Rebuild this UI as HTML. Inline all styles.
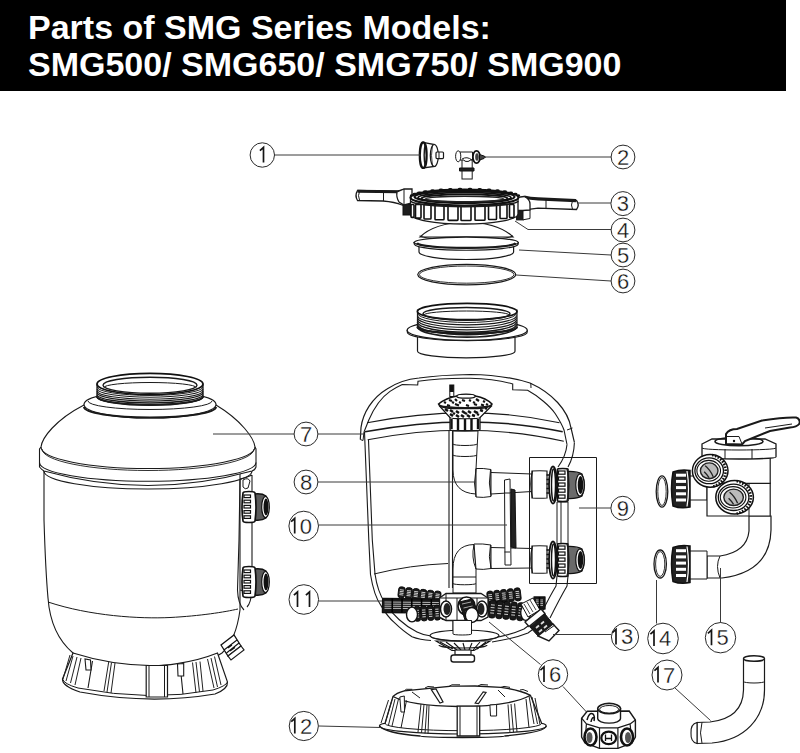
<!DOCTYPE html>
<html><head><meta charset="utf-8">
<style>
html,body{margin:0;padding:0;background:#fff;width:800px;height:753px;overflow:hidden}
.bar{position:absolute;left:0;top:0;width:786px;height:91px;background:#000}
.t{position:absolute;left:28px;color:#fff;font-family:"Liberation Sans",sans-serif;font-weight:bold;font-size:34px;white-space:nowrap;line-height:1}
svg{position:absolute;left:0;top:0}
svg text{font-family:"Liberation Sans",sans-serif;font-size:22px;fill:#111;text-anchor:middle;stroke:#fff;stroke-width:0.3}
.c{fill:#fff;stroke:#2a2a2a}
.ld{fill:none;stroke:#3a3a3a}
.o{fill:#fff;stroke:#1a1a1a}
.n{fill:none;stroke:#1a1a1a}
.k{fill:#1e1e1e;stroke:#111}
.g{fill:#555;stroke:#111}
svg{stroke-width:1}
</style></head><body>
<div class="bar"></div>
<div class="t" style="top:10px">Parts of SMG Series Models:</div>
<div class="t" style="top:47px">SMG500/ SMG650/ SMG750/ SMG900</div>
<svg width="800" height="753" viewBox="0 0 800 753">
<!-- PARTS -->
<g id="p1">
<path class="o" d="M423,142.3 L434.5,144.5 L434.5,166.5 L423,168 Z" stroke-width="1.3"/>
<ellipse class="o" cx="434.3" cy="155.5" rx="4" ry="11" stroke-width="1.2"/>
<path class="n" d="M432.5,145 Q430.5,155.5 432.5,166" stroke-width="0.8"/>
<rect class="o" x="436" y="152" width="7.5" height="6.6" rx="1" stroke-width="1.2"/>
<path class="n" d="M439,152 L439,158.6"/>
<ellipse cx="423.2" cy="155.2" rx="3.4" ry="12.8" fill="#fff" stroke="#111" stroke-width="2.2"/>
<path class="n" d="M425.3,143.5 Q423,155 425.3,167" stroke-width="1.4"/>
</g>
<g id="p2">
<rect class="o" x="462" y="158" width="10.2" height="21" />
<path d="M459.5,168 L474,168 L474,171 L459.5,171 Z" fill="#222" stroke="#111" stroke-width="1"/>
<path class="o" d="M460,152 L472.5,152 L472.5,160 L470,160 A3.00,1.50 0 0 1 464,160 L460,160 Z"/>
<path class="n" d="M462,159 Q467,156 472,160"/>
<ellipse class="o" cx="458.2" cy="156.3" rx="2.6" ry="5.5"/>
<ellipse cx="476.5" cy="157" rx="3.6" ry="6.2" fill="#fff" stroke="#111" stroke-width="1.8"/>
<ellipse cx="477" cy="157" rx="1.8" ry="3.8" fill="#444"/>
<path d="M479.5,154.5 L484,156 L485.5,157 L484,158.5 L479.5,160 Z" fill="#444" stroke="#111" stroke-width="1"/>
</g>
<g id="p5">
<path class="o" d="M419,246 L419,252 A47.3,7.5 0 0 0 513.6,252 L513.6,246 Z" stroke-width="1.2"/>
<path class="o" d="M420,237 C428,229 442,223 466.5,221.5 C491,223 505,229 513,237 Z" stroke-width="1.2"/>
<path class="n" d="M420,235.5 A46.5,4.5 0 0 0 513,235.5"/>
<path class="o" d="M414,242.5 L414.5,244.5 A51.8,6 0 0 0 518,244.5 L518.3,242.5 Z" stroke-width="1.2"/>
<ellipse class="o" cx="466.2" cy="242.5" rx="52" ry="5.5" stroke-width="1.3"/>
<path class="n" d="M417,243 A49.3,5.2 0 0 0 515.5,243" stroke-width="2.2"/>
</g>
<g id="p34">
<path class="o" d="M357.5,190.5 Q354.5,195.5 357.5,200.5 L383,201 Q395,202 402,205 L404,205.5 L404,191.5 L398,191.5 Z" stroke-width="1.3"/>
<path class="n" d="M357.5,191.2 L398,191.8 L404,190.5" stroke-width="3"/>
<path class="n" d="M383.5,191.5 L383.5,201"/>
<path class="n" d="M359.5,191.5 Q357.5,195.5 359.5,200"/>
<rect class="k" x="403" y="204.5" width="7.5" height="10.5"/>
<path class="o" d="M397,192 L404,189 L412,189 L412,203 L404,205 L399,202 Q396,197 397,192 Z" stroke-width="1.3"/>
<path class="n" d="M404,189 L404,205" />
<path class="o" d="M576.5,200.5 Q580,205 576.5,209.5 L538,208.2 Q530,209 524,210.5 L524,197 Q530,198.5 538,198.8 Z" stroke-width="1.3"/>
<path class="n" d="M524,197 Q530,198.5 538,198.8 L576,200.7" stroke-width="3.2"/>
<path class="n" d="M546,199.5 L546,208.5 M572.5,200.8 Q570.5,205 572.5,209.2"/>
<rect class="k" x="516.6" y="210.5" width="6.6" height="9.4"/>
<path class="o" d="M523,210.5 L530,210 L530,218.5 L523,219.8 Z"/>
<path class="o" d="M516.6,197.5 L524,196.5 Q530,199 530,204 L530,210 L523,210.5 L516.6,210.5 Z" stroke-width="1.3"/>
<path class="o" d="M410.5,198 L410.5,214 A53.75,10 0 0 0 518,214 L518,198 Z" stroke-width="1.3"/>
<rect x="411" y="204.5" width="3" height="12.9" rx="0.8" fill="#fff" stroke="#111" stroke-width="1.6"/><rect x="415.5" y="204.5" width="5.5" height="13.6" rx="0.8" fill="#fff" stroke="#111" stroke-width="1.6"/><rect x="424" y="204.5" width="7" height="14.5" rx="0.8" fill="#fff" stroke="#111" stroke-width="1.6"/><rect x="435" y="204.5" width="9" height="15.3" rx="0.8" fill="#fff" stroke="#111" stroke-width="1.6"/><rect x="448" y="204.5" width="10" height="15.9" rx="0.8" fill="#fff" stroke="#111" stroke-width="1.6"/><rect x="461" y="204.5" width="10" height="16.0" rx="0.8" fill="#fff" stroke="#111" stroke-width="1.6"/><rect x="475" y="204.5" width="10" height="15.7" rx="0.8" fill="#fff" stroke="#111" stroke-width="1.6"/><rect x="488.5" y="204.5" width="8.0" height="15.0" rx="0.8" fill="#fff" stroke="#111" stroke-width="1.6"/><rect x="500" y="204.5" width="7" height="14.0" rx="0.8" fill="#fff" stroke="#111" stroke-width="1.6"/><rect x="509.5" y="204.5" width="4.5" height="13.1" rx="0.8" fill="#fff" stroke="#111" stroke-width="1.6"/>
<ellipse cx="412.0" cy="195.5" rx="2.2" ry="1.3" fill="#111"/><ellipse cx="414.7" cy="194.1" rx="2.2" ry="1.3" fill="#111"/><ellipse cx="419.2" cy="192.8" rx="2.2" ry="1.3" fill="#111"/><ellipse cx="425.2" cy="191.6" rx="2.2" ry="1.3" fill="#111"/><ellipse cx="432.5" cy="190.6" rx="2.2" ry="1.3" fill="#111"/><ellipse cx="441.0" cy="189.8" rx="2.2" ry="1.3" fill="#111"/><ellipse cx="450.3" cy="189.3" rx="2.2" ry="1.3" fill="#111"/><ellipse cx="460.0" cy="189.0" rx="2.2" ry="1.3" fill="#111"/><ellipse cx="470.0" cy="189.0" rx="2.2" ry="1.3" fill="#111"/><ellipse cx="479.7" cy="189.3" rx="2.2" ry="1.3" fill="#111"/><ellipse cx="489.0" cy="189.8" rx="2.2" ry="1.3" fill="#111"/><ellipse cx="497.5" cy="190.6" rx="2.2" ry="1.3" fill="#111"/><ellipse cx="504.8" cy="191.6" rx="2.2" ry="1.3" fill="#111"/><ellipse cx="510.8" cy="192.8" rx="2.2" ry="1.3" fill="#111"/><ellipse cx="515.3" cy="194.1" rx="2.2" ry="1.3" fill="#111"/><ellipse cx="518.0" cy="195.5" rx="2.2" ry="1.3" fill="#111"/>
<ellipse cx="464.5" cy="197.5" rx="54" ry="8" fill="#fff" stroke="#111" stroke-width="2.2"/>
<ellipse cx="464.5" cy="196.8" rx="50" ry="6" fill="none" stroke="#111" stroke-width="2.2"/>
<ellipse cx="464.5" cy="197.6" rx="46.5" ry="4.9" fill="none" stroke="#111" stroke-width="1.8"/>
<ellipse cx="464.5" cy="198.3" rx="43" ry="3.9" fill="none" stroke="#111" stroke-width="1.8"/>
<ellipse cx="464.5" cy="199" rx="39" ry="2.8" fill="none" stroke="#222" stroke-width="1.5"/>
<path class="n" d="M411,201 A53.50,5.50 0 0 0 518,201" stroke-width="1.8"/>
</g>
<g id="p6">
<ellipse class="n" cx="466.7" cy="274.6" rx="49" ry="10.2" stroke-width="1.2"/>
<ellipse class="n" cx="466.7" cy="274.6" rx="47.3" ry="8.6" stroke-width="0.9"/>
</g>
<g id="collar">
<path class="o" d="M417.5,336 L417.5,351.3 A48.75,6.6 0 0 0 515,351.3 L515,336 Z" stroke-width="1.2"/>
<path class="o" d="M407.2,330.6 L407.5,333 A60,8.5 0 0 0 527,333 L527.3,330.6 Z" stroke-width="1.1"/>
<ellipse class="o" cx="467.2" cy="330.3" rx="60" ry="10" stroke-width="1.3"/>
<path class="o" d="M417.5,310 L417.5,327 A49.5,6.5 0 0 0 517,327 L517,310 Z" stroke-width="1.2"/>
<path class="n" d="M417.5,311.0 A49.5,9.00 0 0 0 516.5,311.0" stroke-width="0.90"/><path class="n" d="M417.5,313.2 A49.5,9.25 0 0 0 516.5,313.2" stroke-width="1.00"/><path class="n" d="M417.5,315.4 A49.5,9.50 0 0 0 516.5,315.4" stroke-width="1.10"/><path class="n" d="M417.5,317.6 A49.5,9.75 0 0 0 516.5,317.6" stroke-width="1.20"/><path class="n" d="M417.5,319.8 A49.5,10.00 0 0 0 516.5,319.8" stroke-width="1.30"/><path class="n" d="M417.5,322.0 A49.5,10.25 0 0 0 516.5,322.0" stroke-width="1.40"/><path class="n" d="M417.5,324.2 A49.5,10.50 0 0 0 516.5,324.2" stroke-width="1.50"/><path class="n" d="M417.5,326.4 A49.5,10.75 0 0 0 516.5,326.4" stroke-width="1.60"/>
<path class="n" d="M417.5,327 A49.5,6.5 0 0 0 517,327" stroke-width="2.2"/>
<ellipse cx="467.2" cy="311.5" rx="49.8" ry="8.2" fill="#fff" stroke="#111" stroke-width="1.7"/>
<ellipse class="n" cx="466.5" cy="313.8" rx="43.5" ry="6.4" stroke-width="1.5"/>
<path class="n" d="M424,315 A42.5,4 0 0 1 509,315" stroke-width="1"/>
</g>
<g id="tank">
<path class="n" d="M360.3,439.5 L361,427.5 C363,413 372,398 387,389 C396,383 408,379 419,378 Q440,375 470,374.5 Q505,375 530,383 C552,393 568,410 571,428 L574.4,442.4" stroke-width="1.2"/>
<path class="n" d="M364,432 L368.8,420 C374,408 382,397 390,391.4 C395,388 399,386 402.3,384.5 L417.7,385 L418,381.3 Q440,378 470,378.3 Q495,379 512.7,384 L512.7,389.8 L527.6,390.3 C538,396 550,406 555.3,413.7 C560,421 563,427 564,430 L567,444.5" stroke-width="1.1"/>
<path class="n" d="M360.3,439.5 L363,440.5 L364,432 M530.8,383 L531,388 M567,430 L572.5,428" stroke-width="1"/>
<path class="n" d="M367.2,422.7 Q470,403 559.5,422.7" stroke-width="1.1"/>
<path class="n" d="M365,431.8 Q470,412 562.7,431.8" stroke-width="1.5"/>
<path class="n" d="M367.7,439.7 Q470,420 563.8,441.3" stroke-width="1.1"/>
<path class="n" d="M364.5,432 L368.8,540 L370.5,574.5 C373,590 377,600 381,605.6 C386,614 390,619 394.7,622.9 C400,628 406,633 412,636.7 C418,639 424,640 431,640.5" stroke-width="1.1"/>
<path class="n" d="M368.5,440 L372.3,540 L375,574 C377,588 381,597 385,603 C390,611 395,616 399,619.5 C405,625 411,629 417,632 C422,634.5 426,635.5 431,636" stroke-width="1.1"/>
<path class="n" d="M492,642 C505,640 518,637 528,633 L536,627 M492,638 C505,636 515,633 524,629 L532,623" stroke-width="1.1"/>
<path class="n" d="M374,574 Q410,565 448,563.5"/>
<path class="n" d="M574.4,442.4 Q574,456 568,467 M567,444.5 Q566,456 558,467" stroke-width="1.1"/>
<path class="n" d="M568,576 L567,586 Q560,598 550,618 M557,576 L556,586 Q550,596 542,612" stroke-width="1.1"/>
</g>
<g id="pipes">
<path class="o" d="M453,431 L453,470 Q453,493 476,494 L476,469 L478,431 Z"/>
<path class="n" d="M453,444 A12.00,1.50 0 0 0 477,444 M453,455 A12.00,1.50 0 0 0 477,455"/>
<path class="o" d="M476,468.5 Q483,468 491,469.5 L491,496.5 Q483,498 476,497 Z"/>
<path class="n" d="M476,469 Q473,483 476,497"/>
<path class="o" d="M491,472.5 L532,474 L532,491.5 L491,494 Z"/>
<path class="n" d="M490.5,470 Q488,483 491,496"/>
<path class="o" d="M453,593 L453,569 Q453,545 474,544.5 L476,569 L476,593 Z"/>
<path class="o" d="M474,544 Q483,543.5 491,545 L491,568.5 Q483,570 476,569 Z"/>
<path class="n" d="M474,545 Q471,557 476,569"/>
<path class="o" d="M491,547.5 L532,548.5 L532,568 L491,568.5 Z"/>
<path class="n" d="M490.5,545 Q488,557 491,568"/>
<path class="n" d="M453,583.5 A11.50,1.25 0 0 0 476,583.5 M453,577 L476,577"/>
<path class="n" d="M449,431 L449,588 M452.5,431 L452.5,588" stroke-width="1.1"/>
<rect x="449.8" y="385" width="4" height="11.5" fill="#fff" stroke="#111" stroke-width="1"/>
<rect x="449.8" y="385" width="4" height="7" fill="#111"/>
<path class="o" d="M450,417 L450,429.5 A15.00,1.25 0 0 0 480,429.5 L480,417 Z" stroke-width="1.3"/>
<path d="M451.5,419 L451.5,429 M458,419 L458,430 M465,419 L465,430.5 M471.5,419 L471.5,430 M478,419 L478,429" stroke="#111" stroke-width="2.4"/>
<path d="M440,406.5 L450,417.5 A15.00,1.25 0 0 0 480,417.5 L491,406.5 Z" fill="#fff" stroke="#111" stroke-width="1.2"/>
<path d="M445,409 l3,2 M450,410 l3,2 M456,411 l3,2 M462,411 l3,2 M468,411 l3,2 M474,411 l3,2 M480,410 l3,1 M485,408 l2,1 M450,414 l3,2 M456,415 l3,2 M461,415 l3,2 M467,415 l3,2 M472,415 l3,1 M477,414 l2,1 M453,413 l2,1 M465,413 l2,1 M476,412 l2,1" stroke="#111" stroke-width="2.5"/>
<path d="M438.5,404 Q446,398 457,396 Q466,393.5 475.5,396 Q486,398 492,404 Q490,408 478,408.5 L452,408.5 Q440,408 438.5,404 Z" fill="#fff" stroke="#111" stroke-width="1.5"/>
<path d="M444,402 l2,1 M449,400 l3,1 M455,399 l2,2 M462,400 l3,1 M469,400 l2,1 M476,399 l3,2 M483,401 l2,1 M447,405 l3,1 M455,404 l4,1.5 M466,405 l3,1 M474,404 l3,1 M481,404.5 l3,1 M452,402 l2,1 M459,402 l2,1 M473,402 l2,1 M486,404 l2,1" stroke="#111" stroke-width="2.2"/>
<ellipse cx="466" cy="396.2" rx="9.3" ry="2" fill="#fff" stroke="#111" stroke-width="1.3"/>
<path class="n" d="M439,404.5 A26.50,3.25 0 0 0 492,404.5" stroke-width="1.4"/>
</g>
<g id="p10">
<path class="o" d="M504.5,480 L510,479 L511,565 L505,565 Z"/>
<path class="n" d="M504.5,493 L510,493 M504.5,552 L510,552"/>
<path d="M511,489 L515,490 L516,548 L511,547 Z" fill="#222" stroke="#111"/>
</g>
<g id="p9">

<path class="o" d="M557,502 L568,502 L568,544 L557,544 Z"/>
<path class="n" d="M561,502 L561,544"/>

<path class="o" d="M532,471 Q540,470.5 547,471 L547,498 Q540,498.5 532,498 Z" stroke-width="1.2"/>
<path class="n" d="M532.5,471 Q529,484.5 532.5,498" stroke-width="1.1"/>
<path d="M546.5,475 l2.5,0 M546.5,479.5 l2.5,0 M546.5,484 l2.5,0 M546.5,488.5 l2.5,0 M546.5,493 l2.5,0" stroke="#111" stroke-width="1.6"/>
<ellipse cx="553" cy="485" rx="4" ry="18.5" fill="#fff" stroke="#111" stroke-width="1.8"/>
<ellipse cx="553.5" cy="485" rx="2" ry="16" fill="none" stroke="#111" stroke-width="1.4"/>
<path d="M567,471.5 Q577,471 582,474 Q587,485 582,496 Q577,499 567,498.5 Z" fill="#6a6a6a" stroke="#111" stroke-width="1.2"/>
<ellipse cx="580" cy="485" rx="4.2" ry="11" fill="#fff" stroke="#111" stroke-width="1.2"/>
<ellipse cx="580.5" cy="485" rx="2.8" ry="9" fill="#111"/>
<path d="M557.5,469 A5.25,0.50 0 0 1 568,469 L568,501 A5.25,0.50 0 0 1 557.5,501 Z" fill="#fff" stroke="#111" stroke-width="1.6"/>
<path class="n" d="M567,469 Q571,485 567,501" stroke-width="1.2"/>
<rect x="558.5" y="471" width="6.5" height="3.2" fill="#fff" stroke="#111" stroke-width="1.2"/><rect x="558.5" y="477" width="6.5" height="3.2" fill="#fff" stroke="#111" stroke-width="1.2"/><rect x="558.5" y="483" width="6.5" height="3.2" fill="#fff" stroke="#111" stroke-width="1.2"/><rect x="558.5" y="489" width="6.5" height="3.2" fill="#fff" stroke="#111" stroke-width="1.2"/><rect x="558.5" y="495" width="6.5" height="3.2" fill="#fff" stroke="#111" stroke-width="1.2"/><path class="o" d="M532,546 Q540,545.5 547,546 L547,573 Q540,573.5 532,573 Z" stroke-width="1.2"/>
<path class="n" d="M532.5,546 Q529,559.5 532.5,573" stroke-width="1.1"/>
<path d="M546.5,550 l2.5,0 M546.5,554.5 l2.5,0 M546.5,559 l2.5,0 M546.5,563.5 l2.5,0 M546.5,568 l2.5,0" stroke="#111" stroke-width="1.6"/>
<ellipse cx="553" cy="560" rx="4" ry="18.5" fill="#fff" stroke="#111" stroke-width="1.8"/>
<ellipse cx="553.5" cy="560" rx="2" ry="16" fill="none" stroke="#111" stroke-width="1.4"/>
<path d="M567,546.5 Q577,546 582,549 Q587,560 582,571 Q577,574 567,573.5 Z" fill="#6a6a6a" stroke="#111" stroke-width="1.2"/>
<ellipse cx="580" cy="560" rx="4.2" ry="11" fill="#fff" stroke="#111" stroke-width="1.2"/>
<ellipse cx="580.5" cy="560" rx="2.8" ry="9" fill="#111"/>
<path d="M557.5,544 A5.25,0.50 0 0 1 568,544 L568,576 A5.25,0.50 0 0 1 557.5,576 Z" fill="#fff" stroke="#111" stroke-width="1.6"/>
<path class="n" d="M567,544 Q571,560 567,576" stroke-width="1.2"/>
<rect x="558.5" y="546" width="6.5" height="3.2" fill="#fff" stroke="#111" stroke-width="1.2"/><rect x="558.5" y="552" width="6.5" height="3.2" fill="#fff" stroke="#111" stroke-width="1.2"/><rect x="558.5" y="558" width="6.5" height="3.2" fill="#fff" stroke="#111" stroke-width="1.2"/><rect x="558.5" y="564" width="6.5" height="3.2" fill="#fff" stroke="#111" stroke-width="1.2"/><rect x="558.5" y="570" width="6.5" height="3.2" fill="#fff" stroke="#111" stroke-width="1.2"/>
<path class="n" d="M529.5,457.5 H596.5 V583.5 H529.5 Z" stroke="#333"/>
</g>
<g id="laterals"><rect x="-3.3" y="-5.5" width="6.6" height="11.0" rx="2.5" transform="translate(401.6,592.4) rotate(6.6)" fill="#1a1a1a" stroke="#0a0a0a" stroke-width="0.9"/><path d="M399.9,589.7 L403.9,590.2" stroke="#e0e0e0" stroke-width="0.9"/><path d="M399.7,591.4 L403.7,591.8" stroke="#e0e0e0" stroke-width="0.9"/><path d="M399.5,593.0 L403.5,593.5" stroke="#e0e0e0" stroke-width="0.9"/><path d="M399.3,594.6 L403.3,595.1" stroke="#e0e0e0" stroke-width="0.9"/><rect x="-3.3" y="-5.5" width="6.6" height="11.0" rx="2.5" transform="translate(408.8,593.2) rotate(6.6)" fill="#1a1a1a" stroke="#0a0a0a" stroke-width="0.9"/><path d="M407.0,590.6 L411.0,591.0" stroke="#e0e0e0" stroke-width="0.9"/><path d="M406.9,592.2 L410.8,592.7" stroke="#e0e0e0" stroke-width="0.9"/><path d="M406.7,593.8 L410.6,594.3" stroke="#e0e0e0" stroke-width="0.9"/><path d="M406.5,595.5 L410.5,595.9" stroke="#e0e0e0" stroke-width="0.9"/><rect x="-3.3" y="-5.5" width="6.6" height="11.0" rx="2.5" transform="translate(415.9,594.1) rotate(6.6)" fill="#1a1a1a" stroke="#0a0a0a" stroke-width="0.9"/><path d="M414.2,591.4 L418.2,591.9" stroke="#e0e0e0" stroke-width="0.9"/><path d="M414.0,593.0 L418.0,593.5" stroke="#e0e0e0" stroke-width="0.9"/><path d="M413.8,594.7 L417.8,595.1" stroke="#e0e0e0" stroke-width="0.9"/><path d="M413.6,596.3 L417.6,596.8" stroke="#e0e0e0" stroke-width="0.9"/><rect x="-3.3" y="-5.5" width="6.6" height="11.0" rx="2.5" transform="translate(423.1,594.9) rotate(6.6)" fill="#1a1a1a" stroke="#0a0a0a" stroke-width="0.9"/><path d="M421.4,592.2 L425.4,592.7" stroke="#e0e0e0" stroke-width="0.9"/><path d="M421.2,593.9 L425.2,594.3" stroke="#e0e0e0" stroke-width="0.9"/><path d="M421.0,595.5 L425.0,596.0" stroke="#e0e0e0" stroke-width="0.9"/><path d="M420.8,597.1 L424.8,597.6" stroke="#e0e0e0" stroke-width="0.9"/><rect x="-3.3" y="-5.5" width="6.6" height="11.0" rx="2.5" transform="translate(430.2,595.8) rotate(6.6)" fill="#1a1a1a" stroke="#0a0a0a" stroke-width="0.9"/><path d="M428.5,593.1 L432.5,593.5" stroke="#e0e0e0" stroke-width="0.9"/><path d="M428.4,594.7 L432.3,595.2" stroke="#e0e0e0" stroke-width="0.9"/><path d="M428.2,596.3 L432.1,596.8" stroke="#e0e0e0" stroke-width="0.9"/><path d="M428.0,598.0 L432.0,598.4" stroke="#e0e0e0" stroke-width="0.9"/><rect x="-3.3" y="-5.5" width="6.6" height="11.0" rx="2.5" transform="translate(437.4,596.6) rotate(6.6)" fill="#1a1a1a" stroke="#0a0a0a" stroke-width="0.9"/><path d="M435.7,593.9 L439.7,594.4" stroke="#e0e0e0" stroke-width="0.9"/><path d="M435.5,595.5 L439.5,596.0" stroke="#e0e0e0" stroke-width="0.9"/><path d="M435.3,597.2 L439.3,597.6" stroke="#e0e0e0" stroke-width="0.9"/><path d="M435.1,598.8 L439.1,599.3" stroke="#e0e0e0" stroke-width="0.9"/><rect x="-3.1" y="-6.5" width="6.2" height="13.0" rx="2.5" transform="translate(490.4,597.6) rotate(-6.7)" fill="#1a1a1a" stroke="#0a0a0a" stroke-width="0.9"/><path d="M488.2,594.9 L491.9,594.5" stroke="#e0e0e0" stroke-width="0.9"/><path d="M488.5,596.8 L492.1,596.4" stroke="#e0e0e0" stroke-width="0.9"/><path d="M488.7,598.8 L492.3,598.4" stroke="#e0e0e0" stroke-width="0.9"/><path d="M488.9,600.7 L492.6,600.3" stroke="#e0e0e0" stroke-width="0.9"/><rect x="-3.1" y="-6.5" width="6.2" height="13.0" rx="2.5" transform="translate(497.2,596.8) rotate(-6.7)" fill="#1a1a1a" stroke="#0a0a0a" stroke-width="0.9"/><path d="M495.0,594.1 L498.7,593.7" stroke="#e0e0e0" stroke-width="0.9"/><path d="M495.3,596.0 L498.9,595.6" stroke="#e0e0e0" stroke-width="0.9"/><path d="M495.5,598.0 L499.1,597.6" stroke="#e0e0e0" stroke-width="0.9"/><path d="M495.7,599.9 L499.4,599.5" stroke="#e0e0e0" stroke-width="0.9"/><rect x="-3.1" y="-6.5" width="6.2" height="13.0" rx="2.5" transform="translate(504.0,596.0) rotate(-6.7)" fill="#1a1a1a" stroke="#0a0a0a" stroke-width="0.9"/><path d="M501.8,593.3 L505.5,592.9" stroke="#e0e0e0" stroke-width="0.9"/><path d="M502.1,595.2 L505.7,594.8" stroke="#e0e0e0" stroke-width="0.9"/><path d="M502.3,597.2 L505.9,596.8" stroke="#e0e0e0" stroke-width="0.9"/><path d="M502.5,599.1 L506.2,598.7" stroke="#e0e0e0" stroke-width="0.9"/><rect x="-3.1" y="-6.5" width="6.2" height="13.0" rx="2.5" transform="translate(510.8,595.2) rotate(-6.7)" fill="#1a1a1a" stroke="#0a0a0a" stroke-width="0.9"/><path d="M508.6,592.5 L512.3,592.1" stroke="#e0e0e0" stroke-width="0.9"/><path d="M508.9,594.4 L512.5,594.0" stroke="#e0e0e0" stroke-width="0.9"/><path d="M509.1,596.4 L512.7,596.0" stroke="#e0e0e0" stroke-width="0.9"/><path d="M509.3,598.3 L513.0,597.9" stroke="#e0e0e0" stroke-width="0.9"/><rect x="-3.1" y="-6.5" width="6.2" height="13.0" rx="2.5" transform="translate(517.6,594.4) rotate(-6.7)" fill="#1a1a1a" stroke="#0a0a0a" stroke-width="0.9"/><path d="M515.4,591.7 L519.1,591.3" stroke="#e0e0e0" stroke-width="0.9"/><path d="M515.7,593.6 L519.3,593.2" stroke="#e0e0e0" stroke-width="0.9"/><path d="M515.9,595.6 L519.5,595.2" stroke="#e0e0e0" stroke-width="0.9"/><path d="M516.1,597.5 L519.8,597.1" stroke="#e0e0e0" stroke-width="0.9"/><path d="M382.4,612.5 L440.9,613.0 L441.1,599.0 L382.6,598.5 Z" fill="#1a1a1a" stroke="#111" stroke-width="1.3" stroke-linejoin="round"/><path d="M384.5,602.0 L439.0,602.5" stroke="#ddd" stroke-width="0.8"/><path d="M384.5,604.1 L439.0,604.6" stroke="#ddd" stroke-width="0.8"/><path d="M384.5,606.2 L439.0,606.7" stroke="#ddd" stroke-width="0.8"/><path d="M384.5,608.3 L439.0,608.8" stroke="#ddd" stroke-width="0.8"/><path d="M392.2,612.6 L392.3,598.6" stroke="#000" stroke-width="1.6"/><path d="M401.9,612.7 L402.1,598.7" stroke="#000" stroke-width="1.6"/><path d="M411.7,612.7 L411.8,598.8" stroke="#000" stroke-width="1.6"/><path d="M421.4,612.8 L421.6,598.8" stroke="#000" stroke-width="1.6"/><path d="M431.2,612.9 L431.3,598.9" stroke="#000" stroke-width="1.6"/><path d="M534.0,609.0 L545.0,609.0 L545.0,597.0 L534.0,597.0 Z" fill="#1a1a1a" stroke="#111" stroke-width="1.3" stroke-linejoin="round"/><path d="M536.0,600.0 L543.0,600.0" stroke="#ddd" stroke-width="0.8"/><path d="M536.0,601.8 L543.0,601.8" stroke="#ddd" stroke-width="0.8"/><path d="M536.0,603.6 L543.0,603.6" stroke="#ddd" stroke-width="0.8"/><path d="M536.0,605.4 L543.0,605.4" stroke="#ddd" stroke-width="0.8"/><path d="M539.5,609.0 L539.5,597.0" stroke="#000" stroke-width="1.6"/><rect x="-3.0" y="-7.5" width="6.0" height="15.0" rx="2.5" transform="translate(417.3,613.8) rotate(-3.5)" fill="#1a1a1a" stroke="#0a0a0a" stroke-width="0.9"/><path d="M415.4,610.5 L418.8,610.3" stroke="#e0e0e0" stroke-width="0.9"/><path d="M415.5,612.8 L418.9,612.6" stroke="#e0e0e0" stroke-width="0.9"/><path d="M415.7,615.0 L419.1,614.8" stroke="#e0e0e0" stroke-width="0.9"/><path d="M415.8,617.3 L419.2,617.1" stroke="#e0e0e0" stroke-width="0.9"/><rect x="-3.0" y="-7.5" width="6.0" height="15.0" rx="2.5" transform="translate(423.9,613.4) rotate(-3.5)" fill="#1a1a1a" stroke="#0a0a0a" stroke-width="0.9"/><path d="M422.0,610.1 L425.4,609.9" stroke="#e0e0e0" stroke-width="0.9"/><path d="M422.1,612.4 L425.5,612.2" stroke="#e0e0e0" stroke-width="0.9"/><path d="M422.3,614.6 L425.7,614.4" stroke="#e0e0e0" stroke-width="0.9"/><path d="M422.4,616.9 L425.8,616.7" stroke="#e0e0e0" stroke-width="0.9"/><rect x="-3.0" y="-7.5" width="6.0" height="15.0" rx="2.5" transform="translate(430.5,613.0) rotate(-3.5)" fill="#1a1a1a" stroke="#0a0a0a" stroke-width="0.9"/><path d="M428.6,609.7 L432.0,609.5" stroke="#e0e0e0" stroke-width="0.9"/><path d="M428.7,612.0 L432.1,611.8" stroke="#e0e0e0" stroke-width="0.9"/><path d="M428.9,614.2 L432.3,614.0" stroke="#e0e0e0" stroke-width="0.9"/><path d="M429.0,616.5 L432.4,616.3" stroke="#e0e0e0" stroke-width="0.9"/><rect x="-3.0" y="-7.5" width="6.0" height="15.0" rx="2.5" transform="translate(437.1,612.6) rotate(-3.5)" fill="#1a1a1a" stroke="#0a0a0a" stroke-width="0.9"/><path d="M435.2,609.3 L438.6,609.1" stroke="#e0e0e0" stroke-width="0.9"/><path d="M435.3,611.6 L438.7,611.4" stroke="#e0e0e0" stroke-width="0.9"/><path d="M435.5,613.8 L438.9,613.6" stroke="#e0e0e0" stroke-width="0.9"/><path d="M435.6,616.1 L439.0,615.9" stroke="#e0e0e0" stroke-width="0.9"/><rect x="-3.0" y="-7.5" width="6.0" height="15.0" rx="2.5" transform="translate(443.7,612.2) rotate(-3.5)" fill="#1a1a1a" stroke="#0a0a0a" stroke-width="0.9"/><path d="M441.8,608.9 L445.2,608.7" stroke="#e0e0e0" stroke-width="0.9"/><path d="M441.9,611.2 L445.3,611.0" stroke="#e0e0e0" stroke-width="0.9"/><path d="M442.1,613.4 L445.5,613.2" stroke="#e0e0e0" stroke-width="0.9"/><path d="M442.2,615.7 L445.6,615.5" stroke="#e0e0e0" stroke-width="0.9"/><rect x="-3.2" y="-9.0" width="6.4" height="18.0" rx="2.5" transform="translate(485.5,608.3) rotate(5.4)" fill="#1a1a1a" stroke="#0a0a0a" stroke-width="0.9"/><path d="M484.0,604.1 L487.8,604.5" stroke="#e0e0e0" stroke-width="0.9"/><path d="M483.7,606.8 L487.5,607.2" stroke="#e0e0e0" stroke-width="0.9"/><path d="M483.5,609.5 L487.3,609.9" stroke="#e0e0e0" stroke-width="0.9"/><path d="M483.2,612.2 L487.0,612.5" stroke="#e0e0e0" stroke-width="0.9"/><rect x="-3.2" y="-9.0" width="6.4" height="18.0" rx="2.5" transform="translate(492.5,609.0) rotate(5.4)" fill="#1a1a1a" stroke="#0a0a0a" stroke-width="0.9"/><path d="M491.0,604.8 L494.8,605.1" stroke="#e0e0e0" stroke-width="0.9"/><path d="M490.7,607.5 L494.5,607.8" stroke="#e0e0e0" stroke-width="0.9"/><path d="M490.5,610.2 L494.3,610.5" stroke="#e0e0e0" stroke-width="0.9"/><path d="M490.2,612.9 L494.0,613.2" stroke="#e0e0e0" stroke-width="0.9"/><rect x="-3.2" y="-9.0" width="6.4" height="18.0" rx="2.5" transform="translate(499.5,609.7) rotate(5.4)" fill="#1a1a1a" stroke="#0a0a0a" stroke-width="0.9"/><path d="M498.0,605.5 L501.8,605.8" stroke="#e0e0e0" stroke-width="0.9"/><path d="M497.7,608.1 L501.5,608.5" stroke="#e0e0e0" stroke-width="0.9"/><path d="M497.5,610.8 L501.3,611.2" stroke="#e0e0e0" stroke-width="0.9"/><path d="M497.2,613.5 L501.0,613.9" stroke="#e0e0e0" stroke-width="0.9"/><rect x="-3.2" y="-9.0" width="6.4" height="18.0" rx="2.5" transform="translate(506.5,610.3) rotate(5.4)" fill="#1a1a1a" stroke="#0a0a0a" stroke-width="0.9"/><path d="M505.0,606.1 L508.8,606.5" stroke="#e0e0e0" stroke-width="0.9"/><path d="M504.7,608.8 L508.5,609.2" stroke="#e0e0e0" stroke-width="0.9"/><path d="M504.5,611.5 L508.3,611.9" stroke="#e0e0e0" stroke-width="0.9"/><path d="M504.2,614.2 L508.0,614.5" stroke="#e0e0e0" stroke-width="0.9"/><rect x="-3.2" y="-9.0" width="6.4" height="18.0" rx="2.5" transform="translate(513.5,611.0) rotate(5.4)" fill="#1a1a1a" stroke="#0a0a0a" stroke-width="0.9"/><path d="M512.0,606.8 L515.8,607.1" stroke="#e0e0e0" stroke-width="0.9"/><path d="M511.7,609.5 L515.5,609.8" stroke="#e0e0e0" stroke-width="0.9"/><path d="M511.5,612.2 L515.3,612.5" stroke="#e0e0e0" stroke-width="0.9"/><path d="M511.2,614.9 L515.0,615.2" stroke="#e0e0e0" stroke-width="0.9"/><rect x="-3.2" y="-9.0" width="6.4" height="18.0" rx="2.5" transform="translate(520.5,611.7) rotate(5.4)" fill="#1a1a1a" stroke="#0a0a0a" stroke-width="0.9"/><path d="M519.0,607.5 L522.8,607.8" stroke="#e0e0e0" stroke-width="0.9"/><path d="M518.7,610.1 L522.5,610.5" stroke="#e0e0e0" stroke-width="0.9"/><path d="M518.5,612.8 L522.3,613.2" stroke="#e0e0e0" stroke-width="0.9"/><path d="M518.2,615.5 L522.0,615.9" stroke="#e0e0e0" stroke-width="0.9"/>
<ellipse cx="412" cy="614.5" rx="5.5" ry="7.4" fill="#fff" stroke="#111" stroke-width="1.4"/>
<ellipse cx="525.7" cy="612.6" rx="5" ry="7.8" fill="#fff" stroke="#111" stroke-width="1.4"/>
<path class="o" d="M439.5,598 L446,593.5 L481,593.5 L488,598 L488,617 L481,620.5 L446,620.5 L439.5,617 Z" stroke-width="1.3"/>
<path class="n" d="M446,593.5 L446,620.5 M457,598 L457,620.5 M477,598 L477,620.5 M440,598 L488,598"/>
<ellipse cx="446" cy="609" rx="5.5" ry="8" fill="#fff" stroke="#111" stroke-width="1.5"/>
<ellipse cx="447" cy="609" rx="3.5" ry="6" fill="#222"/>
<ellipse cx="482" cy="609" rx="5.5" ry="8" fill="#fff" stroke="#111" stroke-width="1.5"/>
<ellipse cx="481" cy="609" rx="3.5" ry="6" fill="#222"/>
<ellipse cx="466.5" cy="606" rx="8.5" ry="9" fill="#fff" stroke="#111" stroke-width="1.6"/>
<path d="M459,602 L472,599 L478.5,613 L465,620 Z" fill="#1a1a1a" stroke="#111"/>
<path d="M462,604 l9,-2 M463.5,608 l9,-2 M465,612 l9,-2" stroke="#ccc" stroke-width="0.8"/>
<ellipse cx="471.8" cy="615" rx="6.5" ry="7.5" fill="#fff" stroke="#111" stroke-width="1.4"/>
<path class="o" d="M453,620.5 L453,633 L471.5,633 L471.5,620.5 Z"/>
</g>
<g id="dish">
<path d="M436,641 L452,650.5 L474,650.5 L490,641 Z" fill="#fff" stroke="#111" stroke-width="1.2"/>
<path d="M440,642 L453,649 M446,642 L457,650 M454,643 L461,650 M463,643 L465,650 M472,643 L469,650 M480,642 L473,650 M486,642 L477,649" stroke="#111" stroke-width="1.1"/>
<path class="n" d="M439,645 A24.00,3.00 0 0 0 487,645" stroke-width="1.2"/>
<ellipse class="o" cx="464.5" cy="635.5" rx="34.5" ry="5.5" stroke-width="1.2"/>
<path class="n" d="M430,636 A34.50,5.00 0 0 0 499,636"/>
<path class="o" d="M453,620.5 L453,634 A9.25,1.00 0 0 0 471.5,634 L471.5,620.5 Z"/>
<rect class="o" x="455" y="650" width="16" height="5" stroke-width="1.2"/>
<rect class="o" x="451" y="655" width="23.5" height="7" rx="2.5" stroke-width="1.4"/>
</g>
<g id="p13">
<path d="M521,604 L533,598 L540,610 L528,617 Z" fill="#fff" stroke="#111" stroke-width="1"/>
<path d="M524,604 L530,614 M527,602 L533,612 M530,600 L536,610" stroke="#333" stroke-width="0.9"/>
<path class="o" d="M525,622 L541,609 L545,613.5 L529,626.5 Z" stroke-width="1.3"/>
<path d="M530,627 L545,614 L553,624 L538,636 Z" fill="#1a1a1a" stroke="#111"/>
<path d="M536,628 l3,-2.5 M541,624 l3,-2.5 M539,632 l3,-2.5 M544,628 l3,-2.5" stroke="#ddd" stroke-width="1.8"/>
<path class="o" d="M538,636 L553,624 L559,630.5 L549,641 Z" stroke-width="1.4"/>
<path class="n" d="M545,632 L555,625"/>
</g>
<g id="ltank">
<path class="o" d="M44,468 L44,520 Q45.5,570 48,598 C50,625 60,642 73,653 C100,670 200,670 222,653 C234,642 238,625 240,610 L240,470 Z" stroke-width="1.1"/>
<path class="n" d="M48,602 C90,616 140,619 170,617.5 C200,616 225,612 238,609"/>
<path class="o" d="M84,405 C55,420 42,438 41,447 L39.5,449 L39.5,467 Q42,470 44,471 Q148,500 252,471 Q255,470 256,467 L256,449 L255,447 C254,438 241,420 216,405 Z" stroke-width="1.1"/>
<path class="n" d="M41,447 A107.00,21.50 0 0 0 255,447" stroke-width="1.1"/>
<path class="n" d="M42,449 A106.00,21.50 0 0 0 254,449" stroke-width="0.9"/>
<path class="n" d="M39.5,462.5 A108.25,18.75 0 0 0 256,462.5" stroke-width="1.1"/>
<path class="n" d="M44,471 A104.00,18.00 0 0 0 252,471" stroke-width="1.1"/>
<ellipse class="o" cx="150" cy="404.5" rx="66" ry="13.5" stroke-width="1.2"/>
<path class="n" d="M84,407 A66.00,10.50 0 0 0 216,407" stroke-width="2"/>
<path class="n" d="M88,401 A62.00,8.50 0 0 0 212,401" stroke-width="1"/>
<path class="o" d="M97,384 L97,396.5 A53,8.5 0 0 0 203,396.5 L203,384 Z" stroke-width="1.2"/>
<path class="n" d="M97,385.0 A53,8.50 0 0 0 203,385.0" stroke-width="0.90"/><path class="n" d="M97,386.9 A53,8.50 0 0 0 203,386.9" stroke-width="0.98"/><path class="n" d="M97,388.8 A53,8.50 0 0 0 203,388.8" stroke-width="1.06"/><path class="n" d="M97,390.7 A53,8.50 0 0 0 203,390.7" stroke-width="1.14"/><path class="n" d="M97,392.6 A53,8.50 0 0 0 203,392.6" stroke-width="1.22"/><path class="n" d="M97,394.5 A53,8.50 0 0 0 203,394.5" stroke-width="1.30"/><path class="n" d="M97,396.4 A53,8.50 0 0 0 203,396.4" stroke-width="1.38"/>
<path class="n" d="M97,396.5 A53,8.5 0 0 0 203,396.5" stroke-width="2"/>
<ellipse cx="150" cy="384" rx="53" ry="10.6" fill="#fff" stroke="#111" stroke-width="1.6"/>
<ellipse class="n" cx="150" cy="385.2" rx="47" ry="8" stroke-width="1.4"/>
<path class="n" d="M104,387.5 A46,5 0 0 1 196,387.5" stroke-width="1"/>
<path class="n" d="M240,479 L239,540 L237.5,590 Q238,604 244,610 M252,475 Q246,478 240,479 M252,475 L252,590 Q251,603 247,607" stroke-width="1.1"/>
<path class="n" d="M243,480 Q248,477 250,481 L248,488 Q245,490 243,487 Z M240,590 L250,592" stroke-width="1"/>
<path d="M254,494 Q262,493 266,496 Q271,507 266,518 Q262,521 254,520 Z" fill="#5a5a5a" stroke="#111" stroke-width="1.3"/>
<ellipse cx="265.5" cy="507" rx="3.8" ry="10.5" fill="#fff" stroke="#111" stroke-width="1.2"/>
<ellipse cx="266" cy="507" rx="2.5" ry="8.5" fill="#111"/>
<path d="M243,493 A6.00,1.50 0 0 1 255,493 Q257,507 255,521 A6.00,1.50 0 0 1 243,521 Q241,507 243,493 Z" fill="#fff" stroke="#111" stroke-width="1.7"/><rect x="244" y="495.0" width="6.5" height="2.6" fill="#fff" stroke="#111" stroke-width="1.2"/><rect x="244" y="500.2" width="6.5" height="2.6" fill="#fff" stroke="#111" stroke-width="1.2"/><rect x="244" y="505.4" width="6.5" height="2.6" fill="#fff" stroke="#111" stroke-width="1.2"/><rect x="244" y="510.6" width="6.5" height="2.6" fill="#fff" stroke="#111" stroke-width="1.2"/><rect x="244" y="515.8" width="6.5" height="2.6" fill="#fff" stroke="#111" stroke-width="1.2"/><path d="M254,569 Q262,568 266,571 Q271,582 266,593 Q262,596 254,595 Z" fill="#5a5a5a" stroke="#111" stroke-width="1.3"/>
<ellipse cx="265.5" cy="582" rx="3.8" ry="10.5" fill="#fff" stroke="#111" stroke-width="1.2"/>
<ellipse cx="266" cy="582" rx="2.5" ry="8.5" fill="#111"/>
<path d="M243,568 A6.00,1.50 0 0 1 255,568 Q257,582 255,596 A6.00,1.50 0 0 1 243,596 Q241,582 243,568 Z" fill="#fff" stroke="#111" stroke-width="1.7"/><rect x="244" y="570.0" width="6.5" height="2.6" fill="#fff" stroke="#111" stroke-width="1.2"/><rect x="244" y="575.2" width="6.5" height="2.6" fill="#fff" stroke="#111" stroke-width="1.2"/><rect x="244" y="580.4" width="6.5" height="2.6" fill="#fff" stroke="#111" stroke-width="1.2"/><rect x="244" y="585.6" width="6.5" height="2.6" fill="#fff" stroke="#111" stroke-width="1.2"/><rect x="244" y="590.8" width="6.5" height="2.6" fill="#fff" stroke="#111" stroke-width="1.2"/>
<path class="o" d="M73,653 L62.5,679 Q62,686 80,692 Q150,705 215,694 Q228,689 227.5,682 L217.5,653 C190,664 160,666 150,665.5 C120,665 95,660 73,653 Z" stroke-width="1.2"/>
<path class="n" d="M62.5,679 Q64,684 78,688 Q150,702 213,690 Q226,686 227.5,682" stroke-width="1"/>
<path d="M70,655 L63,679 M73,656 L66,681 M77,657 L70.5,683 M81,658 L75,685" stroke="#222" stroke-width="1"/>
<path d="M108.7,662 L104,691 M111.5,662.5 L107,692 M115,663 L111,693" stroke="#222" stroke-width="1"/>
<path d="M192.5,662.5 L196,693 M196,662 L199.5,692 M200,661.5 L203,691" stroke="#222" stroke-width="1"/>
<path d="M207.5,659 L214,688 M211,658 L217.5,687 M214.5,656.5 L221,685" stroke="#222" stroke-width="1"/>
<path class="n" d="M92.5,661 L88,688 M180,664 L183,694" stroke-width="1.1"/>
<path class="o" d="M146.2,665.5 L146.2,697 L167.5,697 L167.5,665.5 Z" stroke-width="1.2"/>
<path class="n" d="M149,665.5 L149,697 M164.5,665.5 L164.5,697"/>
<path class="o" d="M85,659 L86,670 L91,670 L90.5,660 Z M177.5,664 L178,676 L183.7,676 L183.7,663.5 Z" stroke-width="1.1"/>
<path d="M221,645 L234,635 L241,646 L228,656 Z" fill="#fff" stroke="#111" stroke-width="1.3"/>
<path d="M224,650 L237,640 M226.5,653 L239,643 M228,648 L232,645 M230,651 L235,647.5" stroke="#111" stroke-width="1.1"/>
<path class="o" d="M228,656 L241,646 L244,650 L231,660 Z" stroke-width="1.2"/>
</g>
<g id="valve">
<path class="o" d="M749,516 L749,531 Q747,552 720,556 L707,556 L707,578 L722,578 Q770,572 771,530 L771,516 Z" stroke-width="1.2"/>
<path class="n" d="M720,556 Q715,566 720,578"/>
<path class="o" d="M689,476 L707,476 L707,500 L689,500 Z"/>
<path class="o" d="M707,483 L770.2,483 L770.2,516 L707,516 Z" stroke-width="1.2"/>
<path class="n" d="M749,483 L749,516"/>
<path class="o" d="M702,457 L702,483.3 L770.2,483.3 L770.2,457 Z" stroke-width="1.2"/>
<path class="o" d="M702,444 L712,439 L765,439 L776,444 L776,457 A37.00,2.00 0 0 1 702,457 Z" stroke-width="1.3"/>
<path class="n" d="M702,448 A37.00,2.00 0 0 0 776,448 M725,449 L725,459 M752,449 L752,459"/>
<ellipse class="n" cx="739" cy="441.5" rx="24" ry="4.2" stroke-width="1.6"/>
<path class="o" d="M726,444 L726,434 Q729,429 737,429 L762,420.5 Q784,417 796,417.5 Q800.5,419 799.5,423.5 Q797,427 790,427.5 L770,431 L745,441 L742,444.5 Z" stroke-width="2"/>
<path class="n" d="M727,436.5 L739,436.5 L742,444 M765,428 L792,424"/>
<circle cx="734" cy="441" r="1.2" fill="#111"/>
<ellipse cx="710.2" cy="470.8" rx="17.8" ry="16.4" fill="#fff" stroke="#111" stroke-width="1.5"/>
<path d="M712.2,454.90000000000003 A17.8,16.4 0 0 1 712.2,486.7" fill="none" stroke="#111" stroke-width="2.6" stroke-dasharray="1.6,1.4"/>
<ellipse cx="709.2" cy="470.8" rx="14.3" ry="12.899999999999999" fill="#fff" stroke="#111" stroke-width="1.3"/>
<ellipse cx="708.7" cy="470.8" rx="11.8" ry="10.399999999999999" fill="#fff" stroke="#111" stroke-width="1.1"/>
<ellipse cx="709.2" cy="470.8" rx="8.8" ry="7.899999999999999" fill="#bbb" stroke="#222" stroke-width="1.4"/>
<path d="M705.2,465.8 Q710.2,469.8 713.2,476.8 M704.2,471.8 Q707.2,474.8 709.2,477.8" stroke="#222" stroke-width="1.3" fill="none"/><ellipse cx="734.6" cy="497.3" rx="18.8" ry="16.7" fill="#fff" stroke="#111" stroke-width="1.5"/>
<path d="M736.6,481.1 A18.8,16.7 0 0 1 736.6,513.5" fill="none" stroke="#111" stroke-width="2.6" stroke-dasharray="1.6,1.4"/>
<ellipse cx="733.6" cy="497.3" rx="15.3" ry="13.2" fill="#fff" stroke="#111" stroke-width="1.3"/>
<ellipse cx="733.1" cy="497.3" rx="12.8" ry="10.7" fill="#fff" stroke="#111" stroke-width="1.1"/>
<ellipse cx="733.6" cy="497.3" rx="9.8" ry="8.2" fill="#bbb" stroke="#222" stroke-width="1.4"/>
<path d="M729.6,492.3 Q734.6,496.3 737.6,503.3 M728.6,498.3 Q731.6,501.3 733.6,504.3" stroke="#222" stroke-width="1.3" fill="none"/><path d="M690,470.5 Q681,469.0 673,472.0 Q670,488.5 673,506.0 Q681,509.0 690,507.0 Z" fill="#222" stroke="#111" stroke-width="1.5"/><rect x="676" y="473.7" width="10" height="3" fill="#fff" stroke="none"/><rect x="676" y="479.9" width="10" height="3" fill="#fff" stroke="none"/><rect x="676" y="486.1" width="10" height="3" fill="#fff" stroke="none"/><rect x="676" y="492.3" width="10" height="3" fill="#fff" stroke="none"/><rect x="676" y="498.5" width="10" height="3" fill="#fff" stroke="none"/><path d="M687,471.0 Q690,488.5 687,506.5" fill="none" stroke="#fff" stroke-width="1.2"/>
<ellipse class="n" cx="662" cy="491.5" rx="5.8" ry="15.6" stroke-width="1.3"/>
<ellipse class="n" cx="662" cy="491.5" rx="4.2" ry="14" stroke-width="0.9"/>
<path class="o" d="M688,551 L707,551 L707,579 L688,579 Z"/>
<path d="M690,546 Q681,544.5 673,547.5 Q670,564 673,581.5 Q681,584.5 690,582.5 Z" fill="#222" stroke="#111" stroke-width="1.5"/><rect x="676" y="549.2" width="10" height="3" fill="#fff" stroke="none"/><rect x="676" y="555.4" width="10" height="3" fill="#fff" stroke="none"/><rect x="676" y="561.6" width="10" height="3" fill="#fff" stroke="none"/><rect x="676" y="567.8" width="10" height="3" fill="#fff" stroke="none"/><rect x="676" y="574.0" width="10" height="3" fill="#fff" stroke="none"/><path d="M687,546.5 Q690,564 687,582" fill="none" stroke="#fff" stroke-width="1.2"/>
<ellipse class="n" cx="660.2" cy="564" rx="6.2" ry="14" stroke-width="1.3"/>
<ellipse class="n" cx="660.2" cy="564" rx="4.6" ry="12.4" stroke-width="0.9"/>
</g>
<g id="p12">
<path class="o" d="M393,696.5 L385,723.4 Q379.5,724 379.5,726 Q385,733 420,736 A42.50,1.50 0 0 0 505,736 Q546,732 546.2,726 Q546,724 541.7,723.4 L530.4,695.3 Q520,690 501,687.4 L475,686 Q449,686 449,686.3 L404.3,690.8 Q396,693 393,696.5 Z" stroke-width="1.3"/>
<path class="n" d="M393,696.5 C405,703 425,706 458,706.5 C490,706.5 515,704 530.4,695.3" stroke-width="1.3"/>
<path class="n" d="M379.5,726 A83.35,8.00 0 0 0 546.2,726" stroke-width="1.2"/>
<path class="n" d="M385,723.4 A78.35,7.30 0 0 0 541.7,723.4"/>
<path class="n" d="M404.3,690.8 l2,-1.5 l6,0 M425,688 l3,-1.5 l6,0.5 M449,686.3 l3,-1.5 l8,0 M478,686 l3,-1.5 l7,0.5 M501,687.4 l3,-1 l6,1 M520,690 l3,-0.5 l5,2"/>
<path d="M388.5,700 L381,723 M392,699.5 L385,724 M395,699 L388.5,725 M398.6,698.5 L392,726" stroke="#222" stroke-width="1"/>
<path d="M421,704 L418,732 M424,704.5 L421.5,733 M427,705 L425,733.5 M429,705.2 L428,734" stroke="#222" stroke-width="1"/>
<path d="M508,704.5 L510,733 M511,704 L513.5,732.5 M514.6,703.5 L517,732" stroke="#222" stroke-width="1"/>
<path d="M529,696 L534,724 M532,697 L537.5,724 M535,698 L540,724.5" stroke="#222" stroke-width="1"/>
<path class="n" d="M406.5,700.5 L401,728 M526,699 L529,728"/>
<path class="o" d="M457.2,706.2 L457.2,736 L479.7,736 L479.7,706.2 Z" stroke-width="1.3"/>
<path class="n" d="M460,706.2 L460,736 M477,706.2 L477,736"/>
<path class="o" d="M399.8,697 L401,712 L404.5,712 L404.3,696 Z M489.9,705 L490.5,716 L496.6,716 L496.6,704.5 Z"/>
<path class="o" d="M431.3,689.6 L440,703 L443,702 L436,689 Z M483.1,692 L475.2,703 L478.5,703.5 L486,692.5 Z" stroke-width="1.2"/>
<path class="n" d="M498,690 L505,697 M412,692 L420,698"/>
</g>
<g id="p16">
<path class="o" d="M581.6,718.2 L587.2,711.2 L629.2,711 L635.4,720 L635.4,737 L632,743 L617.9,748.4 L599.5,748.4 L585,743 L581.6,737 Z" stroke-width="1.4"/>
<path class="n" d="M586.4,723.9 L599.5,727.8 L617.9,727.8 L630.1,723.9 M599.5,727.8 L599.5,748.4 M617.9,727.8 L617.9,748.4 M586.4,723.9 L585,743 M630.1,723.9 L632,743 M581.6,718.2 L586.4,723.9 M635.4,720 L630.1,723.9" stroke-width="1.2"/>
<path class="o" d="M597.7,708.6 L597.7,718.6 A11.4,4.5 0 0 0 620.5,718.6 L620.5,708.6 Z" stroke-width="1.4"/>
<ellipse class="o" cx="609.1" cy="708.6" rx="11.4" ry="5.2" stroke-width="1.6"/>
<ellipse class="n" cx="609.1" cy="709.3" rx="9.5" ry="3.8" stroke-width="1"/>
<ellipse cx="590.5" cy="737" rx="6" ry="8.5" fill="#fff" stroke="#111" stroke-width="2.6"/>
<ellipse cx="589.5" cy="737.5" rx="3" ry="5.5" fill="#555"/>
<ellipse cx="627" cy="737" rx="6" ry="8.5" fill="#fff" stroke="#111" stroke-width="2.6"/>
<ellipse cx="628" cy="737.5" rx="3" ry="5.5" fill="#555"/>
<ellipse cx="608.7" cy="737.9" rx="7.4" ry="6.3" fill="#fff" stroke="#111" stroke-width="2.2"/>
<path d="M605.5,734.5 L605.5,741 M611.5,734.5 L611.5,741 M605.5,738.5 L611.5,738.5" stroke="#111" stroke-width="1.3"/>
<path d="M587,720 Q589,712 593,714 Q595,716 594,721 M591,722 Q592,716 595,718" fill="none" stroke="#111" stroke-width="1.5"/>
</g>
<g id="p17">
<path class="o" d="M743.5,659 L743.5,690 C743,712 728,720 710,722 L697,722.5 L697,743.5 L712,743 C745,740 764.5,718 764.5,690 L764.5,659 Z" stroke-width="1.2"/>
<ellipse class="o" cx="754" cy="658.5" rx="10.5" ry="2.8" stroke-width="1.4"/>
<path class="n" d="M743.5,681.5 A10.5,1.5 0 0 0 764.5,681.5"/>
<path class="n" d="M702,722.3 Q699,733 702,743.3"/>
<path class="o" d="M697,722.5 Q690.5,724 691,733 Q690.5,742 697,743.5 Z" stroke-width="1.1"/>
</g>
<!-- LEADERS -->
<g id="leaders">
<path class="ld" d="M274,155H420 M485,157H611 M577,203H611 M515,221L528,229.5H611 M519,250L611,255 M516,275L611,281 M213,434H294 M318,434H364 M318,482H476 M319,525H507 M319,601H382 M579,508H611 M319,726L381,727.5 M553,634.5H611 M656.5,580V623.5 M720.5,568V623 M489,622L540.5,664.5 M563,686.5L586.5,712 M675,688L710.5,720.5"/>
</g>
<!-- LABELS -->
<g id="labels">
<circle class="c" cx="262.3" cy="155" r="12.2"/>
<path d="M259.9,150.7 L263.5,147.5 L263.5,162.5" fill="none" stroke="#151515" stroke-width="1.7" stroke-linejoin="miter"/>
<circle class="c" cx="623" cy="157" r="11.9"/>
<text x="623.0" y="164.5">2</text>
<circle class="c" cx="622.9" cy="203.6" r="12"/>
<text x="622.9" y="211.1">3</text>
<circle class="c" cx="623" cy="230" r="11.9"/>
<text x="623.0" y="237.5">4</text>
<circle class="c" cx="623" cy="255" r="11.9"/>
<text x="623.0" y="262.5">5</text>
<circle class="c" cx="623" cy="281" r="11.9"/>
<text x="623.0" y="288.5">6</text>
<circle class="c" cx="306" cy="434" r="11.9"/>
<text x="306.0" y="441.5">7</text>
<circle class="c" cx="306" cy="482" r="11.9"/>
<text x="306.0" y="489.5">8</text>
<circle class="c" cx="622.8" cy="508.2" r="11.9"/>
<text x="622.8" y="515.7">9</text>
<circle class="c" cx="303.7" cy="526" r="14.8"/>
<path d="M291.1,521.7 L294.7,518.5 L294.7,533.5" fill="none" stroke="#151515" stroke-width="1.7" stroke-linejoin="miter"/>
<text x="305.9" y="533.5">0</text>
<circle class="c" cx="303.8" cy="599.5" r="14.8"/>
<path d="M293.9,595.2 L297.5,592.0 L297.5,607.0" fill="none" stroke="#151515" stroke-width="1.7" stroke-linejoin="miter"/>
<path d="M305.9,595.2 L309.5,592.0 L309.5,607.0" fill="none" stroke="#151515" stroke-width="1.7" stroke-linejoin="miter"/>
<circle class="c" cx="303.8" cy="726" r="14.6"/>
<path d="M291.2,721.7 L294.8,718.5 L294.8,733.5" fill="none" stroke="#151515" stroke-width="1.7" stroke-linejoin="miter"/>
<text x="306.0" y="733.5">2</text>
<circle class="c" cx="625" cy="636.9" r="13.6"/>
<path d="M612.4,632.6 L616.0,629.4 L616.0,644.4" fill="none" stroke="#151515" stroke-width="1.7" stroke-linejoin="miter"/>
<text x="627.2" y="644.4">3</text>
<circle class="c" cx="663" cy="638.5" r="15.3"/>
<path d="M650.4,634.2 L654.0,631.0 L654.0,646.0" fill="none" stroke="#151515" stroke-width="1.7" stroke-linejoin="miter"/>
<text x="665.2" y="646.0">4</text>
<circle class="c" cx="720.5" cy="637.7" r="15.2"/>
<path d="M707.9,633.4 L711.5,630.2 L711.5,645.2" fill="none" stroke="#151515" stroke-width="1.7" stroke-linejoin="miter"/>
<text x="722.7" y="645.2">5</text>
<circle class="c" cx="553" cy="674.4" r="14.7"/>
<path d="M540.4,670.1 L544.0,666.9 L544.0,681.9" fill="none" stroke="#151515" stroke-width="1.7" stroke-linejoin="miter"/>
<text x="555.2" y="681.9">6</text>
<circle class="c" cx="667" cy="675" r="15"/>
<path d="M654.4,670.7 L658.0,667.5 L658.0,682.5" fill="none" stroke="#151515" stroke-width="1.7" stroke-linejoin="miter"/>
<text x="669.2" y="682.5">7</text>
</g>
</svg>
</body></html>
